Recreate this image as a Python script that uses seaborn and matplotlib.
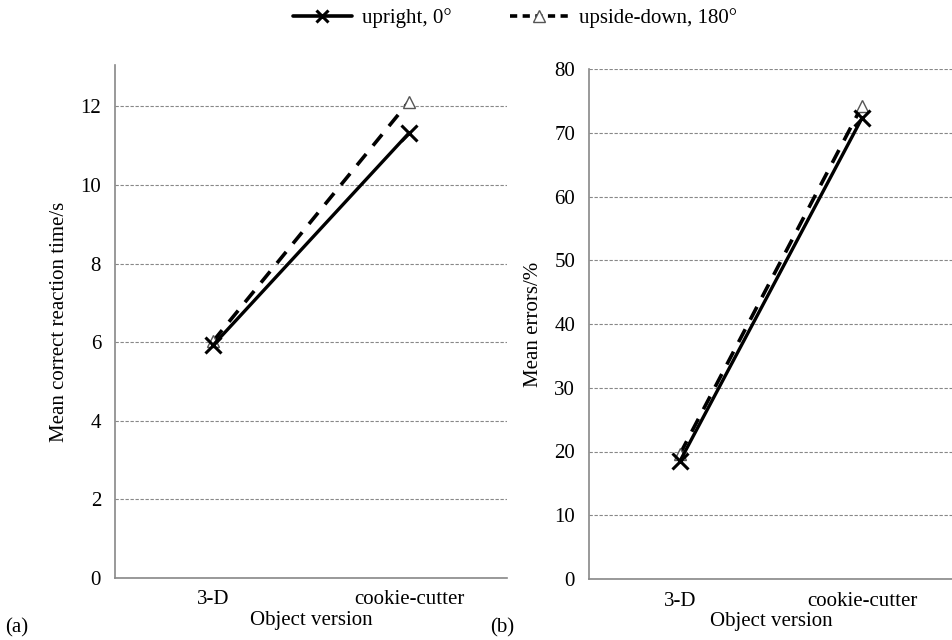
import matplotlib
matplotlib.use("Agg")
import matplotlib.pyplot as plt
import seaborn as sns
import pandas as pd
from matplotlib.lines import Line2D

categories = ["3-D", "cookie-cutter"]
series_names = ["upright, 0\u00b0", "upside-down, 180\u00b0"]
rt_upright = [5.92, 11.32]
rt_upside = [6.02, 12.12]
err_upright = [18.5, 72.3]
err_upside = [19.6, 74.2]
rt_ticks = [0, 2, 4, 6, 8, 10, 12]
err_ticks = [0, 10, 20, 30, 40, 50, 60, 70, 80]

FS = 15

sns.set_style("white")
plt.rcParams['font.family'] = ['Liberation Serif', 'DejaVu Serif']
plt.rcParams['font.size'] = FS
plt.rcParams['text.color'] = 'black'
plt.rcParams['axes.labelcolor'] = 'black'
plt.rcParams['xtick.color'] = 'black'
plt.rcParams['ytick.color'] = 'black'

fig = plt.figure(figsize=(9.52, 6.4), dpi=100)
ax1 = fig.add_axes([115/952, 1-578/640, 392/952, (578-65)/640])
ax2 = fig.add_axes([589/952, 1-579/640, 364/952, (579-69)/640])

def make_df(up, down):
    return pd.DataFrame({
        "cat": categories * 2,
        "val": list(up) + list(down),
        "series": [series_names[0]] * 2 + [series_names[1]] * 2,
    })

def draw(ax, up, down, ylim, ticks, ylabel):
    df = make_df(up, down)
    d_up = df[df.series == series_names[0]]
    d_dn = df[df.series == series_names[1]]
    sns.lineplot(data=d_dn, x="cat", y="val", ax=ax, color="black", lw=2.6,
                 linestyle=(0, (4, 3)), marker="^", markersize=9,
                 markerfacecolor="white", markeredgecolor="#555555", markeredgewidth=1.0,
                 legend=False, zorder=3)
    sns.lineplot(data=d_up, x="cat", y="val", ax=ax, color="black", lw=2.4,
                 marker="x", markersize=11, markeredgewidth=2.2,
                 markeredgecolor="black", markerfacecolor="black",
                 legend=False, zorder=4)
    ax.set_xlim(-0.5, 1.5)
    ax.set_ylim(*ylim)
    ax.set_yticks(ticks)
    ax.set_xticks([0, 1])
    ax.set_xticklabels(categories)
    ax.set_xticks([0.5, 1.5], minor=True)
    ax.tick_params(axis="x", which="major", length=0, pad=9, labelcolor="black", labelsize=FS)
    ax.tick_params(axis="x", which="minor", length=5, color="#888888", direction="out")
    ax.tick_params(axis="y", length=6, color="#888888", direction="out", pad=4,
                   labelcolor="black", labelsize=FS)
    ax.yaxis.grid(True, color="#888888", linestyle=(0, (3, 1.5)), lw=0.8)
    ax.set_axisbelow(True)
    for s in ["top", "right"]:
        ax.spines[s].set_visible(False)
    for s in ["left", "bottom"]:
        ax.spines[s].set_color("#888888")
        ax.spines[s].set_linewidth(1.2)
    ax.set_xlabel("Object version", labelpad=1, color="black", fontsize=FS)
    ax.set_ylabel(ylabel, labelpad=8, color="black", fontsize=FS)

draw(ax1, rt_upright, rt_upside, (0, 13.05), rt_ticks, "Mean correct reaction time/s")
draw(ax2, err_upright, err_upside, (0, 80), err_ticks, "Mean errors/%")

fig.text(5/952, 1-628/640, "(a)", ha="left", va="center", fontsize=FS, color="black")
fig.text(490/952, 1-628/640, "(b)", ha="left", va="center", fontsize=FS, color="black")

handles = [
    Line2D([], [], color="black", lw=2.6, marker="x", markersize=9, markeredgewidth=2.2,
           markeredgecolor="black"),
    Line2D([], [], color="black", lw=2.6, linestyle=(0, (2, 1.5)), marker="^", markersize=8,
           markerfacecolor="white", markeredgecolor="#555555", markeredgewidth=1.0),
]
fig.legend(handles, series_names, loc="center", bbox_to_anchor=(515/952, 1-18/640),
           ncol=2, frameon=False, handlelength=2.8, columnspacing=2.8, handletextpad=0.5,
           fontsize=FS, labelcolor="black")

fig.savefig("out.png", dpi=100)
